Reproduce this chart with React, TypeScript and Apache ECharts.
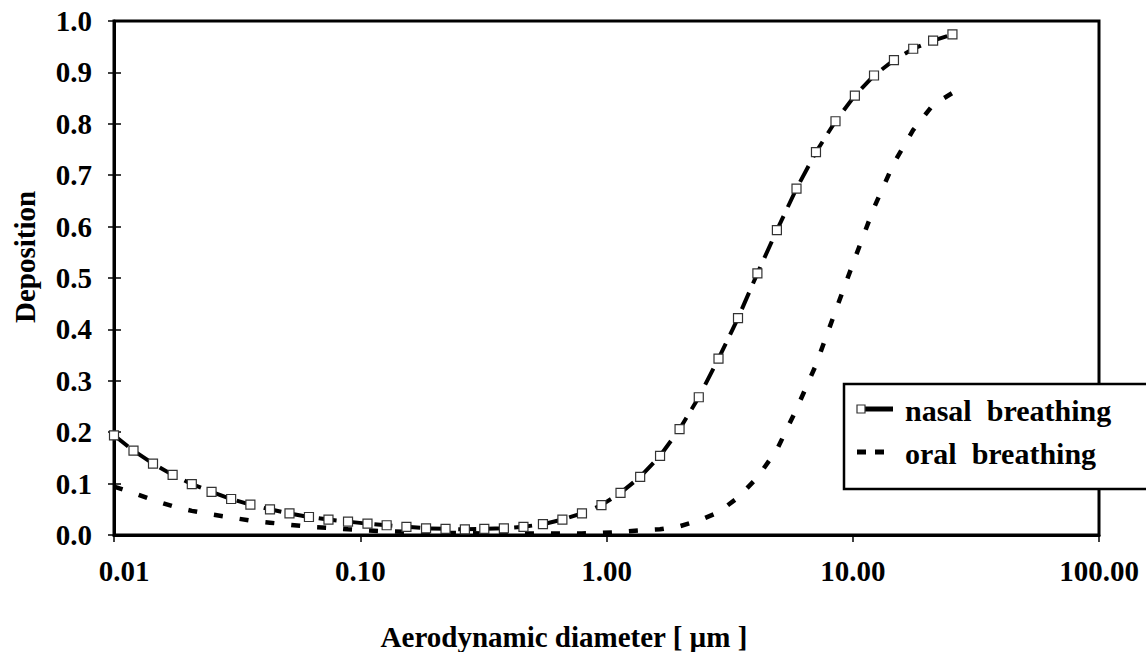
import React, { useEffect, useRef } from "react";
import * as echarts from "echarts";

const diameters = [
  0.01, 0.012, 0.0144, 0.0173, 0.0207, 0.0249, 0.0299, 0.0358, 0.043, 0.0516,
  0.0619, 0.0743, 0.0892, 0.107, 0.128, 0.154, 0.185, 0.222, 0.266, 0.319,
  0.383, 0.46, 0.552, 0.662, 0.795, 0.954, 1.14, 1.37, 1.65, 1.98,
  2.37, 2.85, 3.42, 4.1, 4.92, 5.91, 7.09, 8.51, 10.2, 12.2,
  14.7, 17.6, 21.2, 25.4,
];

const nasal = [
  0.194, 0.164, 0.139, 0.117, 0.099, 0.084, 0.07, 0.059, 0.05, 0.042,
  0.035, 0.03, 0.026, 0.022, 0.019, 0.016, 0.013, 0.012, 0.011, 0.012,
  0.013, 0.016, 0.021, 0.03, 0.042, 0.058, 0.082, 0.113, 0.154, 0.206,
  0.268, 0.343, 0.422, 0.509, 0.593, 0.674, 0.745, 0.805, 0.855, 0.894,
  0.924, 0.946, 0.962, 0.974,
];

const oral = [
  0.094, 0.082, 0.068, 0.056, 0.047, 0.04, 0.034, 0.028, 0.024, 0.02,
  0.016, 0.014, 0.011, 0.009, 0.007, 0.006, 0.005, 0.004, 0.004, 0.003,
  0.003, 0.003, 0.003, 0.003, 0.003, 0.004, 0.006, 0.009, 0.011, 0.017,
  0.028, 0.044, 0.073, 0.112, 0.166, 0.245, 0.331, 0.436, 0.538, 0.637,
  0.724, 0.788, 0.837, 0.86,
];

const seriesNames = ["nasal  breathing", "oral  breathing"];
const xTitle = "Aerodynamic diameter [ µm ]";
const yTitle = "Deposition";

const FONT = "Liberation Serif";

export default function App() {
  const ref = useRef<HTMLDivElement>(null);
  useEffect(() => {
    if (!ref.current) return;
    const chart = echarts.init(ref.current, null, { renderer: "svg" });
    const labelStyle = {
      color: "#000",
      fontFamily: FONT,
      fontWeight: "bold" as const,
      fontSize: 29,
    };
    const txt = (size: number) => ({
      fill: "#000",
      fontFamily: FONT,
      fontWeight: "bold",
      fontSize: size,
    });
    chart.setOption({
      animation: false,
      backgroundColor: "#fff",
      textStyle: { fontFamily: FONT },
      grid: {
        left: 114,
        top: 21,
        right: 47,
        bottom: 117,
        show: true,
        borderColor: "#000",
        borderWidth: 3,
        backgroundColor: "transparent",
      },
      xAxis: {
        type: "log",
        logBase: 10,
        min: 0.01,
        max: 100,
        axisLine: { show: true, lineStyle: { color: "#000", width: 3 } },
        axisTick: { show: true, inside: false, length: 7, lineStyle: { color: "#000", width: 1.5 } },
        minorTick: { show: false },
        splitLine: { show: false },
        axisLabel: {
          ...labelStyle,
          margin: 21,
          formatter: (v: number) =>
            v < 0.011 ? `{first|${v.toFixed(2)}}` : v.toFixed(2),
          rich: {
            first: {
              ...labelStyle,
              padding: [0, 0, 0, 20],
            },
          },
        },
      },
      yAxis: [
        {
          type: "value",
          min: 0,
          max: 1,
          interval: 0.1,
          axisLine: { show: true, lineStyle: { color: "#000", width: 3 } },
          axisTick: { show: true, inside: false, length: 6, lineStyle: { color: "#000", width: 1.5 } },
          splitLine: { show: false },
          axisLabel: {
            ...labelStyle,
            margin: 22,
            formatter: (v: number) => v.toFixed(1),
          },
        },
        {
          type: "value",
          position: "left",
          min: 0,
          max: 1,
          interval: 0.1,
          axisLine: { show: false },
          axisTick: { show: true, inside: true, length: 7, lineStyle: { color: "#000", width: 1.5 } },
          splitLine: { show: false },
          axisLabel: { show: false },
        },
      ],
      series: [
        {
          name: seriesNames[1],
          type: "line",
          data: diameters.map((d, i) => [d, oral[i]]),
          showSymbol: false,
          symbol: "none",
          lineStyle: { color: "#000", width: 4.5, type: [9, 17], cap: "butt" },
          z: 2,
        },
        {
          name: seriesNames[0],
          type: "line",
          data: diameters.map((d, i) => [d, nasal[i]]),
          symbol: "rect",
          symbolSize: 9,
          itemStyle: { color: "#fff", borderColor: "#333", borderWidth: 1.2 },
          lineStyle: { color: "#000", width: 4, type: [18, 10], cap: "butt" },
          z: 3,
        },
      ],
      graphic: [
        {
          type: "text",
          x: 25,
          y: 257,
          rotation: Math.PI / 2,
          style: { text: yTitle, ...txt(29), align: "center", verticalAlign: "middle" },
        },
        {
          type: "text",
          x: 564,
          y: 637,
          style: { text: xTitle, ...txt(29), align: "center", verticalAlign: "middle" },
        },
        {
          type: "group",
          z: 100,
          children: [
            {
              type: "rect",
              shape: { x: 844, y: 384, width: 400, height: 105 },
              style: { fill: "#fff", stroke: "#000", lineWidth: 2.5 },
              z: 100,
            },
            {
              type: "line",
              shape: { x1: 861, y1: 409, x2: 893, y2: 409 },
              style: { stroke: "#000", lineWidth: 5 },
              z: 101,
            },
            {
              type: "rect",
              shape: { x: 857, y: 405, width: 8, height: 8 },
              style: { fill: "#fff", stroke: "#333", lineWidth: 1.2 },
              z: 102,
            },
            {
              type: "line",
              shape: { x1: 857, y1: 452, x2: 893, y2: 452 },
              style: { stroke: "#000", lineWidth: 5, lineDash: [9, 9] },
              z: 101,
            },
            {
              type: "text",
              x: 905,
              y: 410,
              style: { text: seriesNames[0], ...txt(30), align: "left", verticalAlign: "middle" },
              z: 101,
            },
            {
              type: "text",
              x: 905,
              y: 453,
              style: { text: seriesNames[1], ...txt(30), align: "left", verticalAlign: "middle" },
              z: 101,
            },
          ],
        },
      ],
    });
    return () => chart.dispose();
  }, []);
  return (
    <div
      ref={ref}
      style={{ position: "fixed", left: 0, top: 0, width: 1146, height: 652 }}
    />
  );
}
